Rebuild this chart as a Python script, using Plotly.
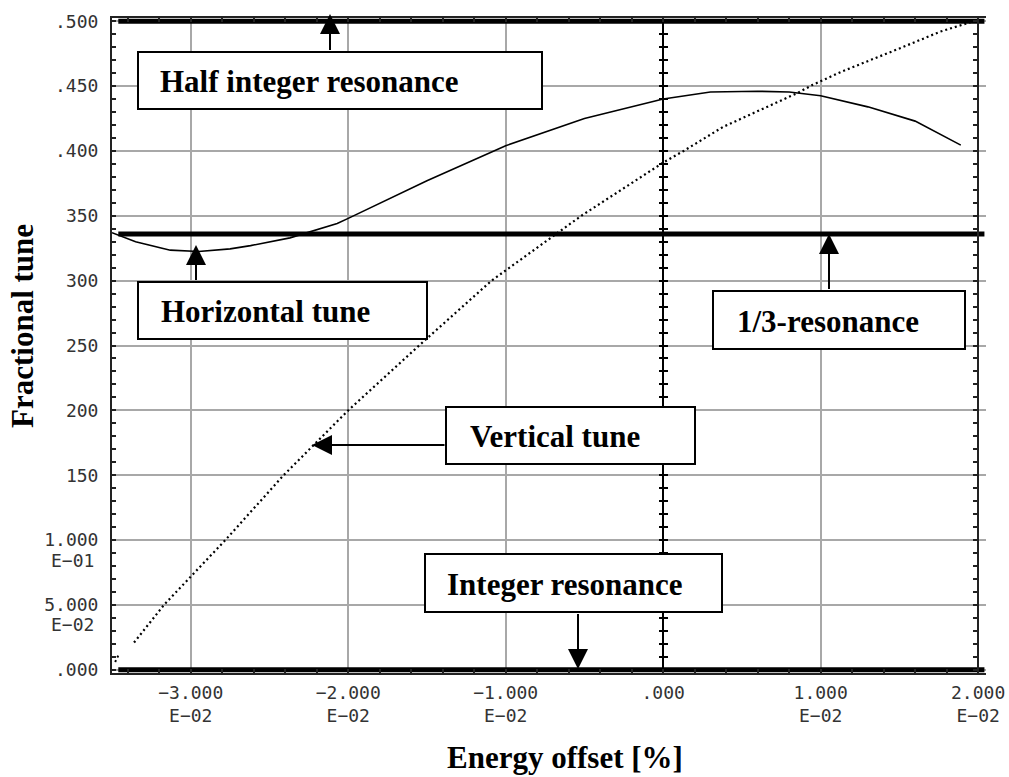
import plotly.graph_objects as go

# ---------------- data ----------------
x_horizontal = [-0.0350, -0.0335, -0.0313, -0.0295, -0.0275, -0.0262, -0.0237, -0.0207,
                -0.0200, -0.0150, -0.0100, -0.0050, 0.0000, 0.0030, 0.0060, 0.0080,
                0.0100, 0.0130, 0.0160, 0.0189]
y_horizontal = [0.337, 0.330, 0.3235, 0.3225, 0.3245, 0.327, 0.333, 0.344,
                0.348, 0.377, 0.404, 0.425, 0.440, 0.4455, 0.446, 0.4455,
                0.4425, 0.434, 0.423, 0.4045]

x_vertical = [-0.0336, -0.0317, -0.0278, -0.0241, -0.0200, -0.0155, -0.0109, -0.0052,
              0.0000, 0.0013, 0.0038, 0.0085, 0.0095, 0.0113, 0.0150, 0.0176, 0.0197]
y_vertical = [0.021, 0.050, 0.100, 0.150, 0.200, 0.250, 0.300, 0.350,
              0.391, 0.400, 0.4185, 0.4445, 0.451, 0.461, 0.479, 0.492, 0.500]

x_vertical_corner = [-0.0348, -0.0346]
y_vertical_corner = [0.006, 0.011]

resonance_values = [0.0, 0.336, 0.5]
resonance_x = [-0.0346, 0.0204]

x_tickvals = [-0.03, -0.02, -0.01, 0.0, 0.01, 0.02]
x_ticktext = ["\u22123.000<br>E\u221202", "\u22122.000<br>E\u221202", "\u22121.000<br>E\u221202",
              ".000", "1.000<br>E\u221202", "2.000<br>E\u221202"]
y_tickvals = [0.0, 0.05, 0.10, 0.15, 0.20, 0.25, 0.30, 0.35, 0.40, 0.45, 0.50]
y_ticktext = [".000", "5.000", "1.000", "150", "200", "250",
              "300", "350", ".400", ".450", ".500"]
# exponent lines printed under some y tick labels
y_exp_vals = [0.05, 0.10]
y_exp_text = ["E\u221202", "E\u221201"]

X_RANGE = [-0.035, 0.0205]
Y_RANGE = [-0.0025, 0.5025]

# ---------------- layout geometry (pixels) ----------------
W, H = 1009, 777
L, R, T, B = 112, 986, 18, 673


def px(xp):
    return (xp - L) / (R - L)


def py(yp):
    return (B - yp) / (B - T)


def xfrac(v):
    return (v - X_RANGE[0]) / (X_RANGE[1] - X_RANGE[0])


fig = go.Figure()

# resonance lines (thick)
for rv in resonance_values:
    fig.add_trace(go.Scatter(x=resonance_x, y=[rv, rv], mode="lines",
                             line=dict(color="black", width=5), hoverinfo="skip",
                             showlegend=False))

fig.add_trace(go.Scatter(x=x_horizontal, y=y_horizontal, mode="lines",
                         line=dict(color="black", width=1.6), showlegend=False))
fig.add_trace(go.Scatter(x=x_vertical, y=y_vertical, mode="lines",
                         line=dict(color="black", width=2.2, dash="2px,3px"), showlegend=False))
fig.add_trace(go.Scatter(x=x_vertical_corner, y=y_vertical_corner, mode="lines",
                         line=dict(color="black", width=2, dash="2px,3px"), showlegend=False))

# invisible anchors for the overlay tick axes
for ax_name in ["y2", "y3", "y4"]:
    fig.add_trace(go.Scatter(x=[0], y=[0.25], yaxis=ax_name, mode="markers",
                             marker=dict(opacity=0), hoverinfo="skip", showlegend=False))

tickfont = dict(family="DejaVu Sans Mono", size=18, color="#333333")
axcol = "#222222"
gridcol = "#a8a8a8"

fig.update_layout(
    width=W, height=H, autosize=False,
    margin=dict(l=L, r=W - R, t=T, b=H - B, pad=0),
    paper_bgcolor="white", plot_bgcolor="white",
    xaxis=dict(range=X_RANGE, tickmode="array", tickvals=x_tickvals, ticktext=x_ticktext,
               tickfont=tickfont, showline=True, linecolor=axcol, linewidth=2,
               mirror="allticks", ticks="inside", ticklen=4, tickwidth=1.5, tickcolor=axcol,
               minor=dict(dtick=0.002, tick0=0, ticks="inside", ticklen=4, tickwidth=1.5,
                          tickcolor=axcol, showgrid=False),
               showgrid=True, gridcolor=gridcol, gridwidth=1.5,
               zeroline=True, zerolinecolor="black", zerolinewidth=2,
               ticklabelstandoff=2, automargin=False),
    yaxis=dict(range=Y_RANGE, tickmode="array", tickvals=y_tickvals, ticktext=y_ticktext,
               tickfont=tickfont, showline=True, linecolor=axcol, linewidth=2,
               mirror=False, ticks="inside", ticklen=4, tickwidth=1.5, tickcolor=axcol,
               minor=dict(dtick=0.01, tick0=0, ticks="inside", ticklen=4, tickwidth=1.5,
                          tickcolor=axcol, showgrid=False),
               showgrid=True, gridcolor=gridcol, gridwidth=1.5, zeroline=False,
               ticklabelstandoff=8, automargin=False),
    yaxis2=dict(range=Y_RANGE, overlaying="y", anchor="free", position=xfrac(0.0),
                side="left", showline=False, showgrid=False, zeroline=False,
                showticklabels=False, tickmode="linear", tick0=0, dtick=0.01,
                ticks="outside", ticklen=4, tickwidth=2, tickcolor="black"),
    yaxis3=dict(range=Y_RANGE, overlaying="y", anchor="free", position=xfrac(0.0),
                side="left", showline=False, showgrid=False, zeroline=False,
                showticklabels=False, tickmode="linear", tick0=0, dtick=0.01,
                ticks="inside", ticklen=4, tickwidth=2, tickcolor="black"),
    yaxis4=dict(range=Y_RANGE, overlaying="y", anchor="free", position=xfrac(0.02),
                side="right", showline=True, linecolor=axcol, linewidth=2,
                showgrid=False, zeroline=False,
                showticklabels=False, tickmode="linear", tick0=0, dtick=0.01,
                ticks="inside", ticklen=4, tickwidth=1.5, tickcolor=axcol),
)

# exponent second lines of y tick labels
for v, t in zip(y_exp_vals, y_exp_text):
    fig.add_annotation(xref="paper", yref="y", x=px(72), y=v, yshift=-20,
                       xanchor="center", yanchor="middle", text=t, showarrow=False,
                       font=tickfont)

# ---------------- label boxes, texts, arrows ----------------
label_font = dict(family="Liberation Serif", size=31, color="black", weight="bold")
labels = [
    # text, box (x0, y0, x1, y1), text left, arrow tip, arrow tail
    ("Half integer resonance", (138, 52, 542, 109), 158, (330, 14), (330, 52)),
    ("Horizontal tune", (138, 282, 427, 339), 159, (196, 245), (196, 282)),
    ("1/3-resonance", (713, 291, 965, 349), 735, (829, 234), (829, 291)),
    ("Vertical tune", (446, 407, 695, 464), 468, (312, 445), (446, 445)),
    ("Integer resonance", (425, 554, 722, 612), 445, (578, 669), (578, 612)),
]

for text, (x0, y0, x1, y1), tx, tip, tail in labels:
    fig.add_shape(type="rect", xref="paper", yref="paper",
                  x0=px(x0), x1=px(x1), y0=py(y1), y1=py(y0),
                  fillcolor="white", line=dict(color="black", width=2), layer="above")
    fig.add_annotation(xref="paper", yref="paper", x=px(tx), y=py((y0 + y1) / 2 + 1),
                       xanchor="left", yanchor="middle", text=text, showarrow=False,
                       font=label_font)
    fig.add_annotation(xref="paper", yref="paper", x=px(tip[0]), y=py(tip[1]),
                       ax=tail[0] - tip[0], ay=tail[1] - tip[1], axref="pixel", ayref="pixel",
                       text=" ", font=dict(size=1), showarrow=True, arrowhead=2,
                       arrowsize=2, arrowwidth=2, arrowcolor="black",
                       standoff=0, startstandoff=0)

# axis titles
fig.add_annotation(xref="paper", yref="paper", x=px(565), y=py(757), xanchor="center",
                   yanchor="middle", text="Energy offset [%]", showarrow=False,
                   font=label_font)
fig.add_annotation(xref="paper", yref="paper", x=px(22), y=py(326), xanchor="center",
                   yanchor="middle", text="Fractional tune", textangle=-90,
                   showarrow=False, font=label_font)

fig.write_html("out.html")
